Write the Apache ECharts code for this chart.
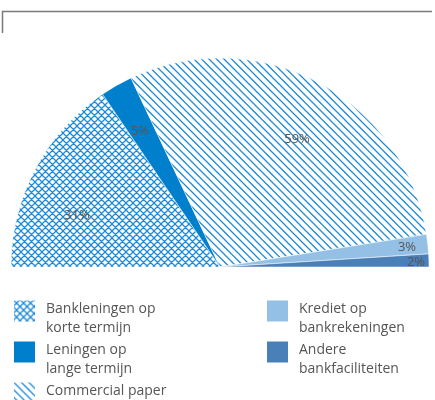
<!DOCTYPE html>
<html>
<head>
<meta charset="utf-8">
<script src="https://cdn.jsdelivr.net/npm/echarts@6/dist/echarts.min.js"></script>
<style>
  html, body { margin: 0; padding: 0; background: #fff; }
  #chart { width: 435px; height: 400px; }
</style>
</head>
<body>
<div id="chart"></div>
<script>
// Financing sources, share of total (%)
const categories = [
  'Bankleningen op korte termijn',
  'Leningen op lange termijn',
  'Commercial paper',
  'Krediet op bankrekeningen',
  'Andere bankfaciliteiten'
];
const shares = [31, 5, 59, 3, 2];
const legendLeft = categories.slice(0, 3);
const legendRight = categories.slice(3);
// legend captions, always two lines so every entry lines up the same way
const legendLabels = {
  'Bankleningen op korte termijn': 'Bankleningen op\nkorte termijn',
  'Leningen op lange termijn': 'Leningen op\nlange termijn',
  'Commercial paper': 'Commercial paper\n ',
  'Krediet op bankrekeningen': 'Krediet op\nbankrekeningen',
  'Andere bankfaciliteiten': 'Andere\nbankfaciliteiten'
};

const HATCH = '#1d8ad8';
const FONT = '"Open Sans", "Noto Sans", sans-serif';

// crosshatch tile (period 7px)
function crossPattern() {
  const s = 7;
  const c = document.createElement('canvas');
  c.width = s; c.height = s;
  const g = c.getContext('2d');
  g.fillStyle = '#fff';
  g.fillRect(0, 0, s, s);
  g.strokeStyle = HATCH;
  g.lineWidth = 1.25;
  g.beginPath();
  g.moveTo(-1, -1); g.lineTo(s + 1, s + 1);
  g.moveTo(s + 1, -1); g.lineTo(-1, s + 1);
  g.moveTo(-1, 1); g.lineTo(1, -1);
  g.moveTo(s - 1, s + 1); g.lineTo(s + 1, s - 1);
  g.stroke();
  return { image: c, repeat: 'repeat' };
}

// "\" stripes, two per 15px tile (7.5px period)
function stripePattern() {
  const s = 15;
  const c = document.createElement('canvas');
  c.width = s; c.height = s;
  const g = c.getContext('2d');
  g.fillStyle = '#fff';
  g.fillRect(0, 0, s, s);
  g.strokeStyle = HATCH;
  g.lineWidth = 1.25;
  g.beginPath();
  for (let k = -2; k <= 2; k++) {
    const off = k * 7.5;
    g.moveTo(off - 2, -2); g.lineTo(off + s + 2, s + 2);
  }
  g.stroke();
  return { image: c, repeat: 'repeat' };
}

const sliceColors = [
  crossPattern(),
  '#0080cc',
  stripePattern(),
  '#93c0e4',
  '#4a80b8'
];

// label anchor points (px) for each slice value
const labelPos = [[77, 215], [140, 131], [297, 139], [407, 247], [416, 262]];

const chart = echarts.init(document.getElementById('chart'), null, { renderer: 'canvas' });

// square swatch sitting at the top of a two-line-tall legend entry
const swatch = 'path://M0,0H23V23H0Z M0,38L0.001,38';

const legendCommon = {
  orient: 'vertical',
  padding: 0,
  height: 200,
  itemWidth: 23,
  itemHeight: 38,
  itemGap: 0,
  icon: swatch,
  formatter: name => legendLabels[name],
  textStyle: {
    fontFamily: FONT,
    fontSize: 14,
    color: '#555',
    lineHeight: 19,
    padding: [3, 0, 0, 5]
  },
  selectedMode: false
};

chart.setOption({
  animation: false,
  backgroundColor: '#fff',
  color: sliceColors,
  graphic: [{
    type: 'polyline',
    shape: { points: [[2.5, 33], [2.5, 11.5], [432, 11.5]] },
    style: { stroke: '#7a7a7a', lineWidth: 1.5, fill: null }
  }],
  legend: [
    Object.assign({}, legendCommon, { data: legendLeft, left: 12, top: 298 }),
    Object.assign({}, legendCommon, { data: legendRight, left: 265, top: 298 })
  ],
  series: [{
    type: 'pie',
    center: [220, 267],
    radius: [0, 209],
    startAngle: 180,
    endAngle: 0,
    clockwise: true,
    avoidLabelOverlap: false,
    itemStyle: { borderColor: '#fff', borderWidth: 0.5 },
    label: {
      show: true,
      position: 'inside',
      formatter: '{c}%',
      fontFamily: FONT,
      fontSize: 13,
      color: '#555'
    },
    labelLine: { show: false },
    labelLayout: params => ({
      x: labelPos[params.dataIndex][0],
      y: labelPos[params.dataIndex][1],
      align: 'center',
      verticalAlign: 'middle'
    }),
    emphasis: { disabled: true },
    data: categories.map((name, i) => ({ name, value: shares[i] }))
  }]
});
</script>
</body>
</html>
